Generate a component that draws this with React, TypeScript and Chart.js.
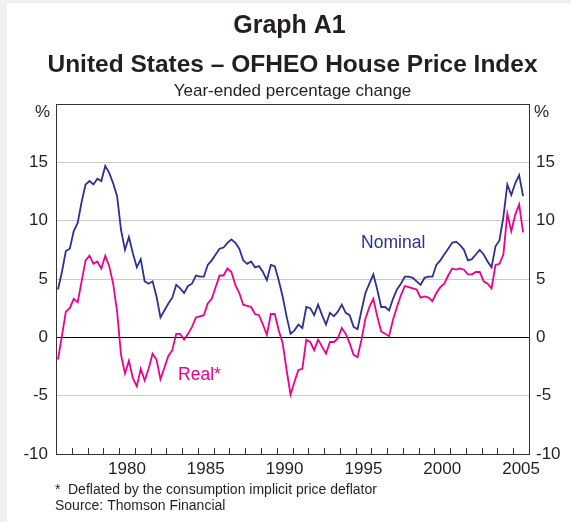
import { useEffect, useRef } from 'react';
import { Chart, registerables } from 'chart.js';

Chart.register(...registerables);

// Quarterly observations, first quarter of 1976 onwards
const FIRST_YEAR = 1976;
const QUARTERS_PER_YEAR = 4;

const nominal = [
  4.1, 5.6, 7.4, 7.6, 9.1, 9.8, 11.6, 13.1, 13.4, 13.1, 13.6, 13.4, 14.7, 14.1, 13.2, 12.1,
  9.2, 7.5, 8.6, 7.2, 6.0, 6.7, 4.8, 4.6, 4.8, 3.5, 1.7, 2.3, 2.9, 3.4, 4.5, 4.2,
  3.8, 4.4, 4.6, 5.3, 5.2, 5.2, 6.2, 6.6, 7.1, 7.6, 7.7, 8.1, 8.4, 8.1, 7.6, 6.6,
  6.3, 6.5, 6.0, 6.1, 5.6, 4.9, 6.2, 6.1, 4.9, 3.5, 1.8, 0.3, 0.6, 1.1, 0.8, 2.6,
  2.5, 1.9, 2.8, 1.9, 1.1, 2.1, 1.8, 2.2, 2.8, 2.1, 1.9, 0.9, 0.7, 2.3, 3.8, 4.6,
  5.4, 4.1, 2.6, 2.6, 2.3, 3.3, 4.1, 4.6, 5.2, 5.2, 5.1, 4.8, 4.5, 5.1, 5.2, 5.2,
  6.2, 6.6, 7.1, 7.6, 8.1, 8.2, 7.9, 7.5, 6.6, 6.7, 7.1, 7.5, 7.1, 6.5, 6.0, 7.8,
  8.3, 10.3, 13.1, 12.2, 13.2, 13.9, 12.1,
];

const real = [
  -1.9, 0.1, 2.2, 2.5, 3.3, 3.0, 4.8, 6.6, 7.0, 6.3, 6.5, 5.9, 7.0, 6.1, 4.6, 2.2,
  -1.5, -3.1, -2.0, -3.5, -4.2, -2.7, -3.7, -2.7, -1.4, -1.9, -3.6, -2.6, -1.6, -1.1, 0.3, 0.3,
  -0.2, 0.3, 0.9, 1.7, 1.8, 1.9, 2.9, 3.3, 4.3, 5.3, 5.3, 5.9, 5.6, 4.5, 3.8, 2.8,
  2.7, 2.6, 2.0, 1.9, 1.1, 0.2, 2.0, 2.0, 0.6, -0.5, -2.8, -4.9, -3.8, -2.8, -2.7, -0.2,
  -0.4, -1.1, -0.2, -0.8, -1.4, -0.4, -0.4, -0.1, 0.8, 0.3, -0.5, -1.5, -1.7, -0.2, 1.6, 2.6,
  3.3, 1.8, 0.5, 0.3, 0.1, 1.5, 2.6, 3.6, 4.4, 4.3, 4.2, 4.1, 3.4, 3.5, 3.4, 3.1,
  3.8, 4.3, 4.6, 5.3, 5.9, 5.8, 5.9, 5.8, 5.4, 5.4, 5.6, 5.6, 4.8, 4.6, 4.2, 6.2,
  6.3, 7.1, 10.6, 9.1, 10.5, 11.4, 9.0,
];

const yearLabels = [1980, 1985, 1990, 1995, 2000, 2005];
const X_MIN = 1976;
const X_MAX = 2006;
const Y_MIN = -10;
const Y_MAX = 20;
const Y_STEP = 5;

const FONT = '"Liberation Sans", Arial, Helvetica, sans-serif';
const TEXT = '#231f20';
const NAVY = '#2e3192';
const MAGENTA = '#ec008c';

const quarterX = (i: number) => FIRST_YEAR + (i + 0.5) / QUARTERS_PER_YEAR;

const decor = {
  id: 'decor',
  beforeDraw(chart: any) {
    const { ctx, width, height } = chart;
    ctx.save();
    ctx.fillStyle = '#eff0f2';
    ctx.fillRect(0, 0, width, height);
    ctx.fillStyle = '#ffffff';
    ctx.fillRect(7, 3, width - 7, height - 3);
    ctx.restore();
  },
  afterDatasetsDraw(chart: any) {
    const { ctx, chartArea: a } = chart;
    const xs = chart.scales.x;
    ctx.save();
    ctx.strokeStyle = '#333';
    ctx.lineWidth = 1;
    ctx.beginPath();
    const top = Math.round(a.top) + 0.5;
    ctx.moveTo(Math.round(a.left) + 0.5, top);
    ctx.lineTo(Math.round(a.right) + 0.5, top);
    ctx.stroke();
    ctx.beginPath();
    for (let y = X_MIN + 1; y < X_MAX; y++) {
      const px = Math.round(xs.getPixelForValue(y)) + 0.5;
      ctx.moveTo(px, a.bottom);
      ctx.lineTo(px, a.bottom - 6);
    }
    ctx.stroke();
    ctx.restore();
  },
  afterDraw(chart: any) {
    const { ctx, chartArea: a } = chart;
    const xs = chart.scales.x;
    const ys = chart.scales.y;
    ctx.save();
    ctx.fillStyle = TEXT;
    ctx.textBaseline = 'alphabetic';
    ctx.textAlign = 'center';
    ctx.font = `bold 25px ${FONT}`;
    ctx.fillText('Graph A1', 289.5, 33);
    ctx.font = `bold 24.5px ${FONT}`;
    ctx.fillText('United States – OFHEO House Price Index', 292.5, 72);
    ctx.font = `17px ${FONT}`;
    ctx.fillText('Year-ended percentage change', 292.5, 96);

    ctx.textBaseline = 'middle';
    ctx.textAlign = 'right';
    ctx.fillText('%', a.left - 6, a.top + 8);
    ctx.textAlign = 'left';
    ctx.fillText('%', a.right + 5, a.top + 8);

    ctx.textBaseline = 'alphabetic';
    ctx.font = `17.5px ${FONT}`;
    ctx.fillStyle = NAVY;
    ctx.fillText('Nominal', xs.getPixelForValue(1995.35), ys.getPixelForValue(7.65));
    ctx.fillStyle = MAGENTA;
    ctx.fillText('Real*', xs.getPixelForValue(1983.74), ys.getPixelForValue(-3.66));

    ctx.fillStyle = TEXT;
    ctx.font = `14px ${FONT}`;
    ctx.fillText('*', 55, 494);
    ctx.fillText('Deflated by the consumption implicit price deflator', 68, 494);
    ctx.fillText('Source: Thomson Financial', 55, 510);
    ctx.restore();
  },
};

export default function App() {
  const ref = useRef<HTMLCanvasElement | null>(null);

  useEffect(() => {
    if (!ref.current) return;
    const tickFont = { family: FONT, size: 17 };
    const chart = new Chart(ref.current, {
      type: 'line',
      data: {
        datasets: [
          {
            label: 'Nominal',
            data: nominal.map((v, i) => ({ x: quarterX(i), y: v })),
            borderColor: NAVY,
            borderWidth: 1.8,
            pointRadius: 0,
            tension: 0,
            fill: false,
          },
          {
            label: 'Real*',
            data: real.map((v, i) => ({ x: quarterX(i), y: v })),
            borderColor: MAGENTA,
            borderWidth: 1.8,
            pointRadius: 0,
            tension: 0,
            fill: false,
          },
        ],
      },
      options: {
        responsive: false,
        animation: false,
        devicePixelRatio: 1,
        layout: { padding: { top: 104, left: 0, right: 0, bottom: 0 } },
        plugins: {
          legend: { display: false },
          tooltip: { enabled: false },
          title: { display: false },
        },
        scales: {
          x: {
            type: 'linear',
            position: 'bottom',
            min: X_MIN,
            max: X_MAX,
            afterBuildTicks: (scale: any) => {
              scale.ticks = yearLabels.map((y) => ({ value: y + 0.5 }));
            },
            afterFit: (scale: any) => {
              scale.height = 68;
            },
            ticks: {
              autoSkip: false,
              maxRotation: 0,
              minRotation: 0,
              padding: 5,
              color: TEXT,
              font: tickFont,
              callback: (v: any) => String(Math.floor(Number(v))),
            },
            grid: { display: false, drawTicks: false },
            border: { display: true, color: '#333', width: 1 },
          },
          y: {
            type: 'linear',
            position: 'left',
            min: Y_MIN,
            max: Y_MAX,
            afterFit: (scale: any) => {
              scale.width = 56;
            },
            ticks: {
              stepSize: Y_STEP,
              padding: 8,
              color: TEXT,
              font: tickFont,
              callback: (v: any) => (Number(v) === Y_MAX ? '' : String(v)),
            },
            grid: {
              drawTicks: false,
              color: (c: any) => (c.tick && c.tick.value === 0 ? '#000000' : '#c8cacd'),
              lineWidth: 1,
            },
            border: { display: true, color: '#333', width: 1 },
          },
          y2: {
            type: 'linear',
            position: 'right',
            min: Y_MIN,
            max: Y_MAX,
            afterFit: (scale: any) => {
              scale.width = 42;
            },
            ticks: {
              stepSize: Y_STEP,
              padding: 7,
              color: TEXT,
              font: tickFont,
              callback: (v: any) => (Number(v) === Y_MAX ? '' : String(v)),
            },
            grid: { drawOnChartArea: false, drawTicks: false },
            border: { display: true, color: '#333', width: 1 },
          },
        },
      },
      plugins: [decor],
    } as any);
    return () => chart.destroy();
  }, []);

  return (
    <div style={{ position: 'fixed', left: 0, top: 0, width: 571, height: 522, background: '#fff' }}>
      <canvas ref={ref} width={571} height={522} style={{ display: 'block' }} />
    </div>
  );
}
